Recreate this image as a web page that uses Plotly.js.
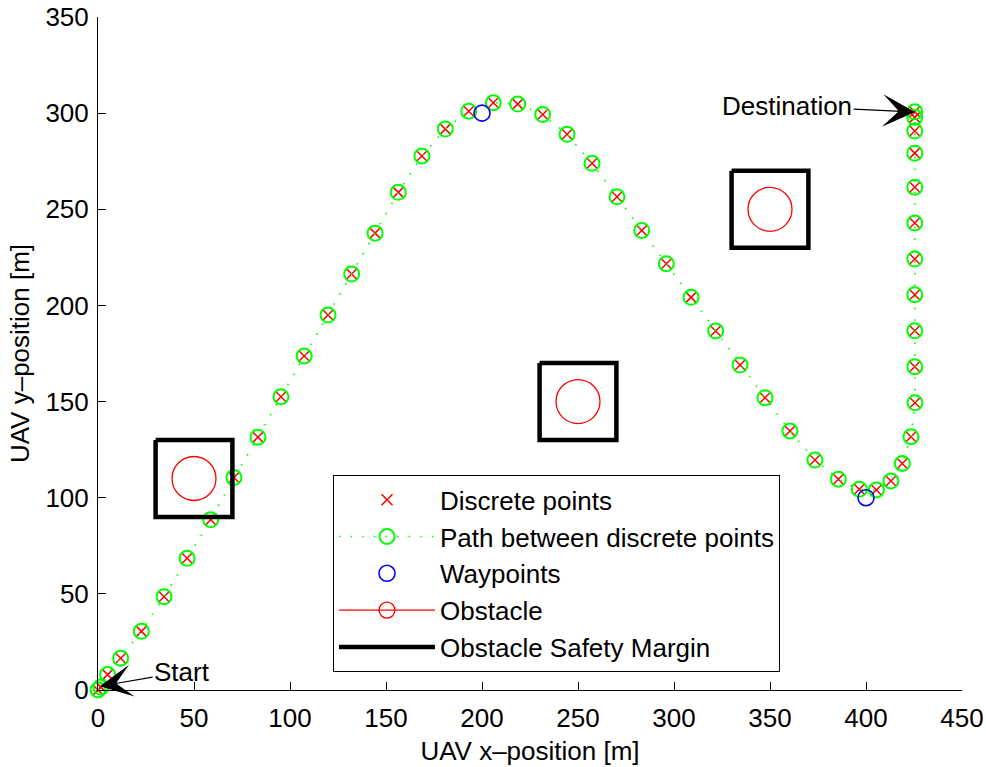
<!DOCTYPE html>
<html>
<head>
<meta charset="utf-8">
<script src="https://cdn.plot.ly/plotly-3.0.1.min.js"></script>
<style>html,body{margin:0;padding:0;background:#fff;}#chart{width:986px;height:767px;}</style>
</head>
<body>
<div id="chart"></div>
<script>
// Discrete path points (UAV x / y positions in metres)
var pathX = [0, 1.5, 5, 11.8, 22.6, 34.4, 46.4, 58.7, 70.8, 83.3, 95.3, 107.4, 119.8, 132.1, 144.3, 156.4, 168.7, 180.9, 193.1, 205.9, 218.6, 231.6, 244.3, 257.3, 270.3, 283.2, 296, 308.9, 321.7, 334.4, 347.4, 360.4, 373.4, 385.6, 396.5, 405.4, 413, 418.9, 423.4, 425.5, 425.4, 425.4, 425.4, 425.4, 425.4, 425.4, 425.4, 425.4, 425.4, 425.4];
var pathY = [0, 1.5, 8, 16.5, 30.5, 48.5, 68.5, 88.5, 110.5, 131.5, 152.5, 173.7, 195, 216.3, 237.6, 258.8, 277.7, 291.7, 301, 305.4, 304.7, 299.3, 289, 273.9, 256.5, 239, 221.7, 204.2, 186.7, 169, 152, 134.7, 119.6, 109.6, 104.4, 104, 108.7, 117.8, 131.7, 149.4, 168.1, 186.8, 205.6, 224.1, 242.9, 261.5, 279.2, 290.7, 297.8, 300.7];

// Waypoints
var wayX = [200, 400];
var wayY = [300, 100];

// Obstacles (centres) and safety margin half-width
var obsX = [50, 250, 350];
var obsY = [110, 150, 250];
var safetyHalf = [20, 20, 20];

// Axis ticks
var xTicks = [0, 50, 100, 150, 200, 250, 300, 350, 400, 450];
var yTicks = [0, 50, 100, 150, 200, 250, 300, 350];

// Annotation anchors
var startPt = [1, 2], startText = [43.8, 9.4];
var destPt = [425.5, 300.6], destText = [358.9, 303.7];

// build obstacle trace with gaps so no connecting lines
var obsTX = [], obsTY = [];
for (var i = 0; i < obsX.length; i++) {
  obsTX.push(obsX[i], null);
  obsTY.push(obsY[i], null);
}
// build safety-margin squares
var sqX = [], sqY = [];
for (var j = 0; j < obsX.length; j++) {
  var h = safetyHalf[j];
  sqX.push(obsX[j]-h, obsX[j]+h, obsX[j]+h, obsX[j]-h, obsX[j]-h, null);
  sqY.push(obsY[j]+h, obsY[j]+h, obsY[j]-h, obsY[j]-h, obsY[j]+h, null);
}

var FONT = 'Liberation Sans, Arial, Helvetica, sans-serif';
var FS = 26;

var traces = [
  {
    x: pathX, y: pathY, type: 'scatter', mode: 'markers',
    name: 'Discrete points', legendgroup: 'a',
    marker: {symbol: 'x-thin-open', size: 11, color: '#ff0000', line: {width: 1.5, color: '#ff0000'}},
    cliponaxis: false, showlegend: true
  },
  {
    x: pathX, y: pathY, type: 'scatter', mode: 'lines+markers',
    name: 'Path between discrete points', legendgroup: 'b',
    line: {color: '#00ff00', width: 1.6, dash: '1.6px,10px'},
    marker: {symbol: 'circle-open', size: 15, color: '#00ff00', line: {width: 2, color: '#00ff00'}},
    cliponaxis: false
  },
  {
    x: wayX, y: wayY, type: 'scatter', mode: 'markers',
    name: 'Waypoints', legendgroup: 'c',
    marker: {symbol: 'circle-open', size: 16, color: '#0000ff', line: {width: 1.6, color: '#0000ff'}},
    cliponaxis: false
  },
  {
    x: obsTX, y: obsTY, type: 'scatter', mode: 'lines+markers',
    name: 'Obstacle', connectgaps: false, legendgroup: 'd',
    line: {color: '#ff0000', width: 1.2},
    marker: {symbol: 'circle-open', size: 44, color: '#ff0000', line: {width: 1.3, color: '#ff0000'}},
    cliponaxis: false
  },
  {
    x: sqX, y: sqY, type: 'scatter', mode: 'lines',
    name: 'Obstacle Safety Margin', connectgaps: false, legendgroup: 'e',
    line: {color: '#000000', width: 4.5}
  }
];

var layout = {
  width: 986, height: 767,
  margin: {l: 98, r: 24, t: 17, b: 77, pad: 0},
  paper_bgcolor: '#ffffff', plot_bgcolor: '#ffffff',
  font: {family: FONT, size: FS, color: '#000'},
  showlegend: true,
  legend: {
    x: 0.272, y: 0.319, xanchor: 'left', yanchor: 'top',
    bgcolor: '#ffffff', bordercolor: '#000000', borderwidth: 1,
    font: {family: FONT, size: FS, color: '#000'},
    itemwidth: 96, traceorder: 'grouped', tracegroupgap: 0
  },
  xaxis: {
    range: [0, 450], tickvals: xTicks, ticktext: xTicks.map(String),
    showgrid: false, zeroline: false, showline: true, linecolor: '#000', linewidth: 1,
    ticks: 'inside', ticklen: 8, tickwidth: 1, tickcolor: '#000',
    tickfont: {family: FONT, size: FS, color: '#000'},
    ticklabelstandoff: 5,
    title: {text: 'UAV x\u2013position [m]', font: {family: FONT, size: FS, color: '#000'}, standoff: 9},
    automargin: false, fixedrange: true
  },
  yaxis: {
    range: [0, 350], tickvals: yTicks, ticktext: yTicks.map(String),
    showgrid: false, zeroline: false, showline: true, linecolor: '#000', linewidth: 1,
    ticks: 'inside', ticklen: 8, tickwidth: 1, tickcolor: '#000',
    tickfont: {family: FONT, size: FS, color: '#000'},
    ticklabelstandoff: 3,
    title: {text: 'UAV y\u2013position [m]', font: {family: FONT, size: FS, color: '#000'}, standoff: 8},
    automargin: false, fixedrange: true
  },
  annotations: [
    {
      x: startPt[0], y: startPt[1], xref: 'x', yref: 'y',
      ax: startText[0], ay: startText[1], axref: 'x', ayref: 'y',
      text: 'Start', showarrow: true, arrowhead: 3, arrowsize: 4.5, arrowwidth: 1.2,
      arrowcolor: '#000', font: {family: FONT, size: FS, color: '#000'}
    },
    {
      x: destPt[0], y: destPt[1], xref: 'x', yref: 'y',
      ax: destText[0], ay: destText[1], axref: 'x', ayref: 'y',
      text: 'Destination', showarrow: true, arrowhead: 3, arrowsize: 4.5, arrowwidth: 1.2,
      arrowcolor: '#000', font: {family: FONT, size: FS, color: '#000'}
    }
  ]
};

Plotly.newPlot('chart', traces, layout, {displayModeBar: false, staticPlot: true});
</script>
</body>
</html>
